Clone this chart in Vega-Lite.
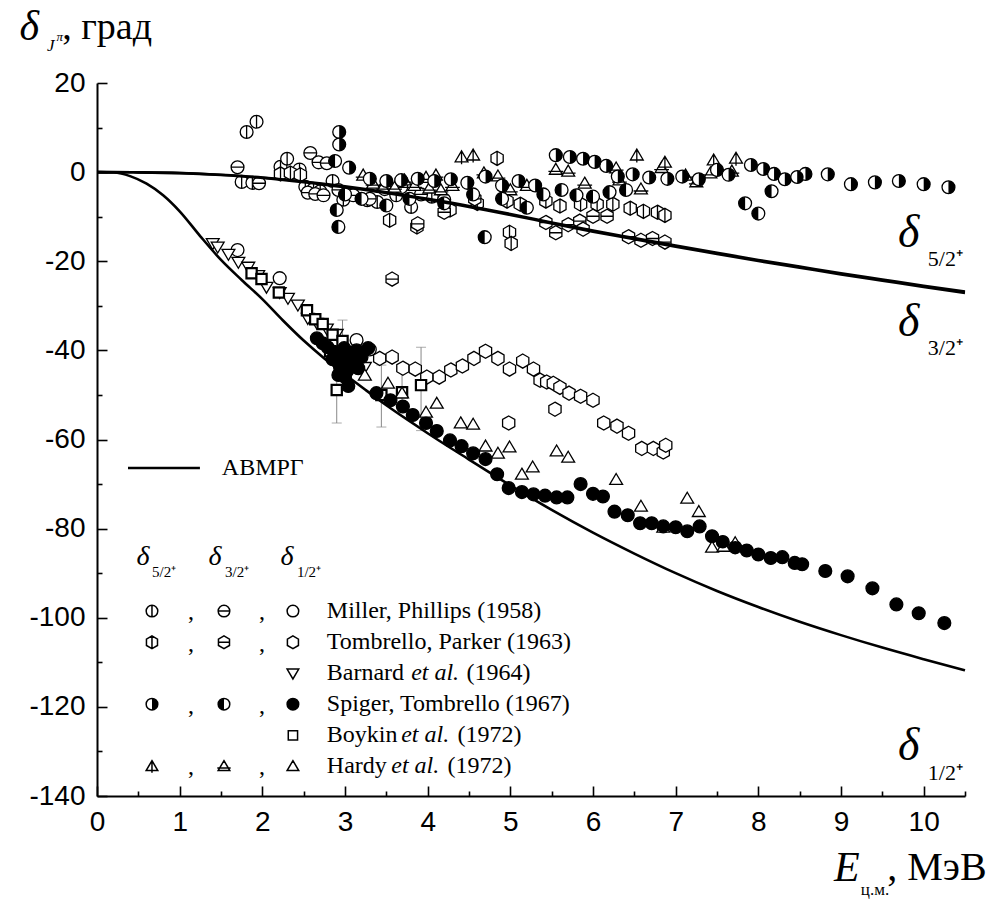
{
  "$schema": "https://vega.github.io/schema/vega-lite/v6.json",
  "width": 868,
  "height": 713,
  "autosize": {"type": "none"},
  "padding": {"left": 97, "top": 83, "right": 25, "bottom": 111},
  "background": "white",
  "config": {"view": {"stroke": null}},
  "datasets": {
    "curves": [
      {"c":"5/2","E":0,"d":0},{"c":"5/2","E":0.5,"d":-0.05},{"c":"5/2","E":1,"d":-0.2},{"c":"5/2","E":1.5,"d":-0.6},{"c":"5/2","E":2,"d":-1.2},{"c":"5/2","E":2.5,"d":-2.1},{"c":"5/2","E":3,"d":-3.2},{"c":"5/2","E":3.5,"d":-4.5},{"c":"5/2","E":4,"d":-6.0},{"c":"5/2","E":4.5,"d":-7.6},{"c":"5/2","E":5,"d":-9.4},{"c":"5/2","E":5.5,"d":-11.3},{"c":"5/2","E":6,"d":-13.1},{"c":"5/2","E":6.5,"d":-14.8},{"c":"5/2","E":7,"d":-16.5},{"c":"5/2","E":7.5,"d":-18.1},{"c":"5/2","E":8,"d":-19.7},{"c":"5/2","E":8.5,"d":-21.2},{"c":"5/2","E":9,"d":-22.7},{"c":"5/2","E":9.5,"d":-24.1},{"c":"5/2","E":10,"d":-25.5},{"c":"5/2","E":10.5,"d":-26.8},
      {"c":"3/2","E":0,"d":0},{"c":"3/2","E":0.5,"d":-0.05},{"c":"3/2","E":1,"d":-0.22},{"c":"3/2","E":1.5,"d":-0.65},{"c":"3/2","E":2,"d":-1.3},{"c":"3/2","E":2.5,"d":-2.25},{"c":"3/2","E":3,"d":-3.4},{"c":"3/2","E":3.5,"d":-4.7},{"c":"3/2","E":4,"d":-6.2},{"c":"3/2","E":4.5,"d":-7.8},{"c":"3/2","E":5,"d":-9.6},{"c":"3/2","E":5.5,"d":-11.5},{"c":"3/2","E":6,"d":-13.35},{"c":"3/2","E":6.5,"d":-15.05},{"c":"3/2","E":7,"d":-16.75},{"c":"3/2","E":7.5,"d":-18.35},{"c":"3/2","E":8,"d":-19.95},{"c":"3/2","E":8.5,"d":-21.45},{"c":"3/2","E":9,"d":-22.95},{"c":"3/2","E":9.5,"d":-24.35},{"c":"3/2","E":10,"d":-25.75},{"c":"3/2","E":10.5,"d":-27.1},
      {"c":"1/2","E":0,"d":0},{"c":"1/2","E":0.2,"d":-0.1},{"c":"1/2","E":0.4,"d":-0.9},{"c":"1/2","E":0.6,"d":-2.6},{"c":"1/2","E":0.8,"d":-5.2},{"c":"1/2","E":1.0,"d":-8.8},{"c":"1/2","E":1.25,"d":-14.4},{"c":"1/2","E":1.5,"d":-19.7},{"c":"1/2","E":1.75,"d":-24.2},{"c":"1/2","E":2.0,"d":-28.5},{"c":"1/2","E":2.25,"d":-33.3},{"c":"1/2","E":2.5,"d":-37.8},{"c":"1/2","E":2.75,"d":-41.8},{"c":"1/2","E":3.0,"d":-45.4},{"c":"1/2","E":3.25,"d":-48.9},{"c":"1/2","E":3.5,"d":-52.3},{"c":"1/2","E":3.75,"d":-55.5},{"c":"1/2","E":4.0,"d":-58.6},{"c":"1/2","E":4.5,"d":-64.5},{"c":"1/2","E":5.0,"d":-70.3},{"c":"1/2","E":5.5,"d":-75.8},{"c":"1/2","E":6.0,"d":-80.9},{"c":"1/2","E":6.5,"d":-85.6},{"c":"1/2","E":7.0,"d":-90.0},{"c":"1/2","E":7.5,"d":-94.0},{"c":"1/2","E":8.0,"d":-97.6},{"c":"1/2","E":8.5,"d":-100.9},{"c":"1/2","E":9.0,"d":-103.9},{"c":"1/2","E":9.5,"d":-106.7},{"c":"1/2","E":10.0,"d":-109.3},{"c":"1/2","E":10.5,"d":-111.8}
    ],
    "pts": [
      {"k":"MP5","E":1.75,"d":-2.2},{"k":"MP5","E":1.81,"d":9.0},{"k":"MP5","E":1.93,"d":11.3},{"k":"MP5","E":1.88,"d":-2.4},{"k":"MP5","E":2.22,"d":1.2},{"k":"MP5","E":2.30,"d":3.0},{"k":"MP5","E":2.45,"d":0.6},{"k":"MP5","E":2.52,"d":-3.3},{"k":"MP5","E":2.62,"d":-3.8},{"k":"MP5","E":2.70,"d":-4.3},{"k":"MP5","E":2.85,"d":-2.0},{"k":"MP5","E":2.98,"d":-6.2},{"k":"MP5","E":3.27,"d":-6.3},{"k":"MP5","E":3.39,"d":-6.7},{"k":"MP5","E":3.62,"d":-5.2},{"k":"MP5","E":3.80,"d":-7.8},{"k":"MP5","E":4.05,"d":-5.5},
      {"k":"MP3","E":1.70,"d":1.1},{"k":"MP3","E":1.96,"d":-2.5},{"k":"MP3","E":2.58,"d":4.3},{"k":"MP3","E":2.68,"d":2.2},{"k":"MP3","E":2.78,"d":2.0},{"k":"MP3","E":2.55,"d":-4.6},{"k":"MP3","E":2.64,"d":-4.9},{"k":"MP3","E":2.74,"d":-5.2},{"k":"MP3","E":2.92,"d":-4.0},{"k":"MP3","E":3.10,"d":-5.2},{"k":"MP3","E":3.30,"d":-6.0},{"k":"MP3","E":3.48,"d":-3.8},{"k":"MP3","E":3.68,"d":-3.4},{"k":"MP3","E":3.92,"d":-5.0},{"k":"MP3","E":4.20,"d":-6.2},
      {"k":"TP5","E":2.22,"d":-0.4},{"k":"TP5","E":2.34,"d":-0.2},{"k":"TP5","E":2.46,"d":-0.6},{"k":"TP5","E":3.54,"d":-10.8},{"k":"TP5","E":3.87,"d":-12.3},{"k":"TP5","E":4.27,"d":-8.5},{"k":"TP5","E":4.60,"d":-7.0},{"k":"TP5","E":4.84,"d":3.1},{"k":"TP5","E":4.96,"d":-6.5},{"k":"TP5","E":4.99,"d":-13.5},{"k":"TP5","E":5.01,"d":-16.0},{"k":"TP5","E":5.12,"d":-7.2},{"k":"TP5","E":5.43,"d":-6.5},{"k":"TP5","E":5.60,"d":-7.6},{"k":"TP5","E":5.85,"d":-7.2},{"k":"TP5","E":6.05,"d":-7.2},{"k":"TP5","E":6.24,"d":-7.2},{"k":"TP5","E":6.45,"d":-8.1},{"k":"TP5","E":6.61,"d":-8.8},{"k":"TP5","E":6.78,"d":-9.0},{"k":"TP5","E":6.87,"d":-9.7},
      {"k":"TP3","E":3.57,"d":-24.0},{"k":"TP3","E":3.88,"d":-11.6},{"k":"TP3","E":4.20,"d":-9.0},{"k":"TP3","E":4.57,"d":-6.0},{"k":"TP3","E":5.43,"d":-11.3},{"k":"TP3","E":5.55,"d":-13.6},{"k":"TP3","E":5.70,"d":-11.8},{"k":"TP3","E":5.84,"d":-11.0},{"k":"TP3","E":5.88,"d":-12.8},{"k":"TP3","E":6.00,"d":-9.9},{"k":"TP3","E":6.17,"d":-9.9},{"k":"TP3","E":6.43,"d":-14.5},{"k":"TP3","E":6.58,"d":-15.3},{"k":"TP3","E":6.72,"d":-14.9},{"k":"TP3","E":6.87,"d":-15.7},
      {"k":"H3","E":3.22,"d":-0.7},{"k":"H3","E":3.34,"d":-2.5},{"k":"H3","E":3.46,"d":-3.4},{"k":"H3","E":3.60,"d":-3.4},{"k":"H3","E":3.72,"d":-1.8},{"k":"H3","E":3.84,"d":-3.0},{"k":"H3","E":3.98,"d":-1.2},{"k":"H3","E":4.10,"d":-0.7},{"k":"H3","E":4.02,"d":-3.6},{"k":"H3","E":4.16,"d":-4.0},{"k":"H3","E":4.30,"d":-3.0},{"k":"H3","E":4.68,"d":-0.2},{"k":"H3","E":4.85,"d":-0.9},{"k":"H3","E":5.00,"d":-4.0},{"k":"H3","E":5.20,"d":-3.0},{"k":"H3","E":5.55,"d":0.6},{"k":"H3","E":5.70,"d":0.2},{"k":"H3","E":5.90,"d":-2.5},{"k":"H3","E":6.28,"d":0.9},{"k":"H3","E":6.32,"d":-1.8},{"k":"H3","E":6.58,"d":-3.8},{"k":"H3","E":6.83,"d":1.0},{"k":"H3","E":7.12,"d":-0.7},{"k":"H3","E":7.25,"d":-2.2},{"k":"H3","E":7.42,"d":-0.2},{"k":"H3","E":7.68,"d":0.2},
      {"k":"H5","E":4.41,"d":3.4},{"k":"H5","E":4.55,"d":3.8},{"k":"H5","E":6.53,"d":3.8},{"k":"H5","E":6.87,"d":2.2},{"k":"H5","E":7.46,"d":2.7},{"k":"H5","E":7.73,"d":3.1},
      {"k":"ST5","E":2.93,"d":9.0},{"k":"ST5","E":2.93,"d":6.2},{"k":"ST5","E":3.05,"d":1.0},{"k":"ST5","E":3.30,"d":-1.5},{"k":"ST5","E":3.50,"d":-2.0},{"k":"ST5","E":3.68,"d":-1.8},{"k":"ST5","E":3.88,"d":-1.5},{"k":"ST5","E":4.08,"d":-2.0},{"k":"ST5","E":4.28,"d":-1.6},{"k":"ST5","E":4.48,"d":-2.4},{"k":"ST5","E":4.70,"d":-1.0},{"k":"ST5","E":4.90,"d":-3.0},{"k":"ST5","E":5.10,"d":-2.0},{"k":"ST5","E":5.30,"d":-3.0},{"k":"ST5","E":5.55,"d":3.8},{"k":"ST5","E":5.72,"d":3.4},{"k":"ST5","E":5.88,"d":3.0},{"k":"ST5","E":6.02,"d":2.3},{"k":"ST5","E":6.16,"d":1.4},{"k":"ST5","E":6.30,"d":-1.0},{"k":"ST5","E":6.48,"d":-0.5},{"k":"ST5","E":6.68,"d":-1.2},{"k":"ST5","E":6.90,"d":-1.5},{"k":"ST5","E":7.08,"d":-1.0},{"k":"ST5","E":7.28,"d":-1.6},{"k":"ST5","E":7.50,"d":0.5},{"k":"ST5","E":7.64,"d":-0.6},{"k":"ST5","E":7.91,"d":1.6},{"k":"ST5","E":8.06,"d":0.7},{"k":"ST5","E":8.19,"d":-0.4},{"k":"ST5","E":8.32,"d":-1.6},{"k":"ST5","E":8.47,"d":-1.1},{"k":"ST5","E":8.57,"d":-0.4},{"k":"ST5","E":8.84,"d":-0.5},{"k":"ST5","E":9.12,"d":-2.7},{"k":"ST5","E":9.41,"d":-2.3},{"k":"ST5","E":9.70,"d":-2.0},{"k":"ST5","E":10.00,"d":-2.7},{"k":"ST5","E":10.30,"d":-3.4},
      {"k":"ST3","E":2.90,"d":-8.5},{"k":"ST3","E":2.92,"d":-12.3},{"k":"ST3","E":2.88,"d":2.5},{"k":"ST3","E":3.00,"d":-5.0},{"k":"ST3","E":3.20,"d":-6.0},{"k":"ST3","E":3.50,"d":-7.5},{"k":"ST3","E":3.78,"d":-6.0},{"k":"ST3","E":4.20,"d":-7.0},{"k":"ST3","E":4.55,"d":-5.0},{"k":"ST3","E":4.69,"d":-14.6},{"k":"ST3","E":4.90,"d":-6.0},{"k":"ST3","E":5.20,"d":-8.0},{"k":"ST3","E":5.40,"d":-5.0},{"k":"ST3","E":5.62,"d":-4.0},{"k":"ST3","E":5.80,"d":-5.2},{"k":"ST3","E":6.00,"d":-5.5},{"k":"ST3","E":6.20,"d":-4.5},{"k":"ST3","E":6.40,"d":-4.0},{"k":"ST3","E":7.84,"d":-7.0},{"k":"ST3","E":8.00,"d":-9.3},{"k":"ST3","E":8.16,"d":-4.3},
      {"k":"MP1","E":1.70,"d":-17.5},{"k":"MP1","E":2.21,"d":-23.8},{"k":"MP1","E":3.14,"d":-37.7},{"k":"MP1","E":3.30,"d":-39.8},
      {"k":"TP1","E":3.42,"d":-41.8},{"k":"TP1","E":3.57,"d":-41.5},{"k":"TP1","E":3.70,"d":-44.0},{"k":"TP1","E":3.85,"d":-44.2},{"k":"TP1","E":3.99,"d":-46.0},{"k":"TP1","E":4.14,"d":-46.0},{"k":"TP1","E":4.28,"d":-44.4},{"k":"TP1","E":4.42,"d":-43.5},{"k":"TP1","E":4.56,"d":-41.8},{"k":"TP1","E":4.70,"d":-40.2},{"k":"TP1","E":4.85,"d":-41.8},{"k":"TP1","E":4.99,"d":-44.2},{"k":"TP1","E":4.98,"d":-56.3},{"k":"TP1","E":5.15,"d":-42.4},{"k":"TP1","E":5.28,"d":-44.2},{"k":"TP1","E":5.36,"d":-46.7},{"k":"TP1","E":5.44,"d":-47.1},{"k":"TP1","E":5.52,"d":-47.4},{"k":"TP1","E":5.60,"d":-48.3},{"k":"TP1","E":5.71,"d":-49.6},{"k":"TP1","E":5.85,"d":-50.3},{"k":"TP1","E":6.00,"d":-51.2},{"k":"TP1","E":5.54,"d":-53.2},{"k":"TP1","E":6.13,"d":-56.3},{"k":"TP1","E":6.29,"d":-57.0},{"k":"TP1","E":6.43,"d":-58.6},{"k":"TP1","E":6.59,"d":-62.0},{"k":"TP1","E":6.73,"d":-62.0},{"k":"TP1","E":6.85,"d":-62.8},{"k":"TP1","E":6.88,"d":-61.3},
      {"k":"B1","E":1.40,"d":-16.0},{"k":"B1","E":1.46,"d":-16.8},{"k":"B1","E":1.59,"d":-18.4},{"k":"B1","E":1.71,"d":-20.2},{"k":"B1","E":1.83,"d":-21.3},{"k":"B1","E":1.95,"d":-23.2},{"k":"B1","E":2.05,"d":-25.8},{"k":"B1","E":2.21,"d":-27.0},{"k":"B1","E":2.31,"d":-28.3},{"k":"B1","E":2.43,"d":-29.8},{"k":"B1","E":2.55,"d":-32.8},{"k":"B1","E":2.66,"d":-33.9},{"k":"B1","E":2.78,"d":-35.2},{"k":"B1","E":2.90,"d":-36.4},{"k":"B1","E":3.24,"d":-43.8},
      {"k":"BK1","E":1.87,"d":-22.7},{"k":"BK1","E":1.99,"d":-24.0},{"k":"BK1","E":2.20,"d":-27.0},{"k":"BK1","E":2.54,"d":-31.0},{"k":"BK1","E":2.64,"d":-33.0},{"k":"BK1","E":2.73,"d":-34.1},{"k":"BK1","E":2.85,"d":-36.5},{"k":"BK1","E":2.97,"d":-37.9},{"k":"BK1","E":2.82,"d":-40.2},{"k":"BK1","E":3.10,"d":-41.0},{"k":"BK1","E":2.90,"d":-48.9},{"k":"BK1","E":3.44,"d":-50.0},{"k":"BK1","E":3.69,"d":-49.4},{"k":"BK1","E":3.92,"d":-47.8},
      {"k":"ST1","E":2.66,"d":-37.3},{"k":"ST1","E":2.73,"d":-38.4},{"k":"ST1","E":2.79,"d":-39.3},{"k":"ST1","E":2.85,"d":-42.0},{"k":"ST1","E":2.87,"d":-40.4},{"k":"ST1","E":2.92,"d":-45.5},{"k":"ST1","E":2.94,"d":-43.8},{"k":"ST1","E":2.95,"d":-41.9},{"k":"ST1","E":2.99,"d":-39.5},{"k":"ST1","E":3.00,"d":-46.0},{"k":"ST1","E":3.03,"d":-44.5},{"k":"ST1","E":3.06,"d":-40.6},{"k":"ST1","E":3.08,"d":-42.5},{"k":"ST1","E":3.14,"d":-40.0},{"k":"ST1","E":3.16,"d":-44.0},{"k":"ST1","E":3.20,"d":-41.5},{"k":"ST1","E":3.28,"d":-39.5},{"k":"ST1","E":3.04,"d":-48.0},{"k":"ST1","E":3.38,"d":-49.6},{"k":"ST1","E":3.55,"d":-51.2},{"k":"ST1","E":3.70,"d":-52.6},{"k":"ST1","E":3.82,"d":-54.5},{"k":"ST1","E":3.98,"d":-56.3},{"k":"ST1","E":4.11,"d":-58.1},{"k":"ST1","E":4.27,"d":-60.2},{"k":"ST1","E":4.41,"d":-61.5},{"k":"ST1","E":4.55,"d":-63.1},{"k":"ST1","E":4.70,"d":-64.4},{"k":"ST1","E":4.84,"d":-67.8},{"k":"ST1","E":4.98,"d":-70.9},{"k":"ST1","E":5.14,"d":-71.8},{"k":"ST1","E":5.28,"d":-72.3},{"k":"ST1","E":5.42,"d":-72.6},{"k":"ST1","E":5.56,"d":-73.0},{"k":"ST1","E":5.69,"d":-73.0},{"k":"ST1","E":5.85,"d":-70.0},{"k":"ST1","E":6.00,"d":-72.2},{"k":"ST1","E":6.12,"d":-72.8},{"k":"ST1","E":6.26,"d":-76.2},{"k":"ST1","E":6.42,"d":-77.0},{"k":"ST1","E":6.57,"d":-78.8},{"k":"ST1","E":6.71,"d":-78.8},{"k":"ST1","E":6.85,"d":-79.5},{"k":"ST1","E":7.00,"d":-79.7},{"k":"ST1","E":7.14,"d":-80.6},{"k":"ST1","E":7.29,"d":-79.5},{"k":"ST1","E":7.44,"d":-81.7},{"k":"ST1","E":7.57,"d":-83.0},{"k":"ST1","E":7.72,"d":-84.2},{"k":"ST1","E":7.86,"d":-84.9},{"k":"ST1","E":8.00,"d":-85.8},{"k":"ST1","E":8.15,"d":-86.6},{"k":"ST1","E":8.29,"d":-86.4},{"k":"ST1","E":8.44,"d":-87.7},{"k":"ST1","E":8.53,"d":-88.0},{"k":"ST1","E":8.81,"d":-89.5},{"k":"ST1","E":9.08,"d":-90.7},{"k":"ST1","E":9.38,"d":-93.4},{"k":"ST1","E":9.67,"d":-97.0},{"k":"ST1","E":9.94,"d":-99.0},{"k":"ST1","E":10.25,"d":-101.2},
      {"k":"H1","E":3.24,"d":-45.6},{"k":"H1","E":3.52,"d":-47.4},{"k":"H1","E":3.69,"d":-49.6},{"k":"H1","E":3.98,"d":-53.9},{"k":"H1","E":4.11,"d":-51.9},{"k":"H1","E":4.40,"d":-56.3},{"k":"H1","E":4.55,"d":-56.6},{"k":"H1","E":4.70,"d":-61.5},{"k":"H1","E":4.85,"d":-63.1},{"k":"H1","E":4.99,"d":-61.7},{"k":"H1","E":5.14,"d":-67.8},{"k":"H1","E":5.27,"d":-66.2},{"k":"H1","E":5.56,"d":-62.6},{"k":"H1","E":5.70,"d":-64.0},{"k":"H1","E":6.28,"d":-69.0},{"k":"H1","E":6.58,"d":-75.0},{"k":"H1","E":6.85,"d":-79.7},{"k":"H1","E":7.14,"d":-73.2},{"k":"H1","E":7.28,"d":-76.2},{"k":"H1","E":7.44,"d":-84.2},{"k":"H1","E":7.58,"d":-84.0},{"k":"H1","E":7.72,"d":-83.2}
    ],
    "err": [
      {"E":2.90,"lo":-56.3,"hi":-41.0},{"E":2.97,"lo":-43.0,"hi":-33.2},{"E":3.44,"lo":-57.2,"hi":-43.3},{"E":3.69,"lo":-54.0,"hi":-44.5},{"E":3.92,"lo":-58.0,"hi":-39.3}
    ],
    "lsym": [
      {"k":"MP5","E":0.665,"d":-98.5},{"k":"MP3","E":1.536,"d":-98.5},{"k":"MP1","E":2.37,"d":-98.5},
      {"k":"TP5","E":0.665,"d":-105.5},{"k":"TP3","E":1.536,"d":-105.5},{"k":"TP1","E":2.37,"d":-105.5},
      {"k":"B1","E":2.37,"d":-112.5},
      {"k":"ST5","E":0.665,"d":-119.4},{"k":"ST3","E":1.536,"d":-119.4},{"k":"ST1","E":2.37,"d":-119.4},
      {"k":"BK1","E":2.37,"d":-126.4},
      {"k":"H5","E":0.665,"d":-133.3},{"k":"H3","E":1.536,"d":-133.3},{"k":"H1","E":2.37,"d":-133.3}
    ],
    "lline": [{"E":0.375,"E2":1.245,"d":-66.4}],
    "ltext": [
      {"t":"АВМРГ","E":1.51,"d":-66.4},
      {"t":"Miller, Phillips (1958)","E":2.78,"d":-98.5},
      {"t":"Tombrello, Parker (1963)","E":2.78,"d":-105.5},
      {"t":"Barnard","E":2.78,"d":-112.5},{"t":"(1964)","E":4.47,"d":-112.5},
      {"t":"Spiger, Tombrello (1967)","E":2.78,"d":-119.4},
      {"t":"Boykin","E":2.78,"d":-126.4},{"t":"(1972)","E":4.36,"d":-126.4},
      {"t":"Hardy","E":2.78,"d":-133.3},{"t":"(1972)","E":4.24,"d":-133.3},
      {"t":",","E":1.1,"d":-98.8},{"t":",","E":1.96,"d":-98.8},
      {"t":",","E":1.1,"d":-105.8},{"t":",","E":1.96,"d":-105.8},
      {"t":",","E":1.1,"d":-119.7},{"t":",","E":1.96,"d":-119.7},
      {"t":",","E":1.1,"d":-133.6},{"t":",","E":1.96,"d":-133.6}
    ],
    "litalic": [
      {"t":"et al.","E":3.8,"d":-112.5},{"t":"et al.","E":3.68,"d":-126.4},{"t":"et al.","E":3.56,"d":-133.3}
    ],
    "hdelta": [
      {"t":"δ","E":0.556,"d":-86.4},{"t":"δ","E":1.427,"d":-86.4},{"t":"δ","E":2.297,"d":-86.4}
    ],
    "hsub": [
      {"t":"5/2⁺","E":0.665,"d":-89.8},{"t":"3/2⁺","E":1.548,"d":-89.8},{"t":"1/2⁺","E":2.418,"d":-89.8}
    ],
    "cdelta": [
      {"t":"δ","E":9.82,"d":-13.6},{"t":"δ","E":9.82,"d":-33.6},{"t":"δ","E":9.82,"d":-128.8}
    ],
    "csub": [
      {"t":"5/2⁺","E":10.05,"d":-19.6},{"t":"3/2⁺","E":10.05,"d":-39.4},{"t":"1/2⁺","E":10.05,"d":-134.8}
    ],
    "tbig": [
      {"t":"δ","E":-0.82,"d":32.5},{"t":"E","E":9.07,"d":-156.2}
    ],
    "tsubit": [
      {"t":"J","E":-0.605,"d":28.3}
    ],
    "tsup": [
      {"t":"π","E":-0.49,"d":30.4}
    ],
    "tsub": [
      {"t":"ц.м.","E":9.24,"d":-161.0}
    ],
    "tmain": [
      {"t":", град","E":-0.42,"d":32.3}
    ],
    "tmainx": [
      {"t":", МэВ","E":9.56,"d":-156.2}
    ]
  },
  "layer": [
    {
      "data": {"name": "err"},
      "mark": {"type": "rule", "color": "#888888", "strokeWidth": 1},
      "encoding": {
        "x": {"field": "E", "type": "quantitative", "scale": {"domain": [0, 10.5], "nice": false, "zero": false},
          "axis": {
            "values": [0,0.5,1,1.5,2,2.5,3,3.5,4,4.5,5,5.5,6,6.5,7,7.5,8,8.5,9,9.5,10,10.5],
            "labelExpr": "datum.value % 1 === 0 ? '' + datum.value : ''",
            "tickSize": {"condition": {"test": "datum.value % 1 === 0", "value": -10}, "value": -5},
            "labelPadding": 22, "domainColor": "black", "domainWidth": 2, "tickColor": "black", "tickWidth": 1.6,
            "labelFont": "Liberation Sans", "labelFontSize": 28, "labelColor": "black", "grid": false, "title": null,
            "labelFlush": false, "labelOverlap": false
          }},
        "y": {"field": "lo", "type": "quantitative", "scale": {"domain": [-140, 20], "nice": false, "zero": false},
          "axis": {
            "values": [-140,-130,-120,-110,-100,-90,-80,-70,-60,-50,-40,-30,-20,-10,0,10,20],
            "labelExpr": "datum.value % 20 === 0 ? '' + datum.value : ''",
            "tickSize": {"condition": {"test": "datum.value % 20 === 0", "value": -10}, "value": -5},
            "labelPadding": 22, "domainColor": "black", "domainWidth": 2, "tickColor": "black", "tickWidth": 1.6,
            "labelFont": "Liberation Sans", "labelFontSize": 28, "labelColor": "black", "grid": false, "title": null,
            "labelFlush": false, "labelOverlap": false
          }},
        "y2": {"field": "hi"}
      }
    },
    {
      "data": {"name": "err"},
      "mark": {"type": "tick", "color": "#888888", "thickness": 1, "size": 10, "orient": "horizontal"},
      "encoding": {
        "x": {"field": "E", "type": "quantitative"},
        "y": {"field": "lo", "type": "quantitative"}
      }
    },
    {
      "data": {"name": "err"},
      "mark": {"type": "tick", "color": "#888888", "thickness": 1, "size": 10, "orient": "horizontal"},
      "encoding": {
        "x": {"field": "E", "type": "quantitative"},
        "y": {"field": "hi", "type": "quantitative"}
      }
    },
    {
      "data": {"name": "pts"},
      "mark": {"type": "point", "filled": true, "fill": "white", "stroke": "black", "opacity": 1},
      "encoding": {
        "x": {"field": "E", "type": "quantitative"},
        "y": {"field": "d", "type": "quantitative"},
        "shape": {"field": "k", "type": "nominal", "legend": null,
          "scale": {
            "domain": ["MP1","MP5","MP3","TP1","TP5","TP3","B1","ST1","ST5","ST3","BK1","H1","H5","H3"],
            "range": [
              "M-1,0A1,1,0,1,1,1,0A1,1,0,1,1,-1,0Z",
              "M-1,0A1,1,0,1,1,1,0A1,1,0,1,1,-1,0ZM0,-1L0,1",
              "M-1,0A1,1,0,1,1,1,0A1,1,0,1,1,-1,0ZM-1,0L1,0",
              "M0,-1.1L0.95,-0.55L0.95,0.55L0,1.1L-0.95,0.55L-0.95,-0.55Z",
              "M0,-1.1L0.95,-0.55L0.95,0.55L0,1.1L-0.95,0.55L-0.95,-0.55ZM0,-1.1L0,1.1",
              "M0,-1.1L0.95,-0.55L0.95,0.55L0,1.1L-0.95,0.55L-0.95,-0.55ZM-0.95,0L0.95,0",
              "M-1,-0.75L1,-0.75L0,0.95Z",
              "M-1,0A1,1,0,1,1,1,0A1,1,0,1,1,-1,0Z",
              "M-1,0A1,1,0,1,1,1,0A1,1,0,1,1,-1,0Z",
              "M-1,0A1,1,0,1,1,1,0A1,1,0,1,1,-1,0Z",
              "M-0.8,-0.8L0.8,-0.8L0.8,0.8L-0.8,0.8Z",
              "M0,-0.95L1,0.75L-1,0.75Z",
              "M0,-0.95L1,0.75L-1,0.75ZM0,-0.95L0,1.15",
              "M0,-0.95L1,0.75L-1,0.75ZM-1.15,0.3L1.15,0.3"
            ]
          }},
        "size": {"value": 165},
        "strokeWidth": {"condition": {"test": "datum.k === 'BK1'", "value": 2.2}, "value": 1.3}
      }
    },
    {
      "data": {"name": "pts"},
      "transform": [{"filter": "datum.k === 'ST1' || datum.k === 'ST5' || datum.k === 'ST3'"}],
      "mark": {"type": "point", "filled": true, "fill": "black", "strokeWidth": 0, "opacity": 1},
      "encoding": {
        "x": {"field": "E", "type": "quantitative"},
        "y": {"field": "d", "type": "quantitative"},
        "shape": {"condition": [
            {"test": "datum.k === 'ST5'", "value": "M0,-1A1,1,0,0,1,0,1Z"},
            {"test": "datum.k === 'ST3'", "value": "M0,-1A1,1,0,0,0,0,1Z"}
          ], "value": "M-1,0A1,1,0,1,1,1,0A1,1,0,1,1,-1,0Z"},
        "size": {"value": 165}
      }
    },
    {
      "data": {"name": "curves"},
      "mark": {"type": "line", "color": "black", "strokeWidth": 2.6, "interpolate": "monotone"},
      "encoding": {
        "x": {"field": "E", "type": "quantitative"},
        "y": {"field": "d", "type": "quantitative"},
        "detail": {"field": "c"}
      }
    },
    {
      "data": {"name": "lline"},
      "mark": {"type": "rule", "color": "black", "strokeWidth": 2.6},
      "encoding": {
        "x": {"field": "E", "type": "quantitative"},
        "x2": {"field": "E2"},
        "y": {"field": "d", "type": "quantitative"}
      }
    },
    {
      "data": {"name": "lsym"},
      "mark": {"type": "point", "filled": true, "fill": "white", "stroke": "black", "strokeWidth": 1.5, "opacity": 1},
      "encoding": {
        "x": {"field": "E", "type": "quantitative"},
        "y": {"field": "d", "type": "quantitative"},
        "shape": {"field": "k", "type": "nominal", "legend": null},
        "size": {"value": 135}
      }
    },
    {
      "data": {"name": "lsym"},
      "transform": [{"filter": "datum.k === 'ST1' || datum.k === 'ST5' || datum.k === 'ST3'"}],
      "mark": {"type": "point", "filled": true, "fill": "black", "strokeWidth": 0, "opacity": 1},
      "encoding": {
        "x": {"field": "E", "type": "quantitative"},
        "y": {"field": "d", "type": "quantitative"},
        "shape": {"condition": [
            {"test": "datum.k === 'ST5'", "value": "M0,-1A1,1,0,0,1,0,1Z"},
            {"test": "datum.k === 'ST3'", "value": "M0,-1A1,1,0,0,0,0,1Z"}
          ], "value": "M-1,0A1,1,0,1,1,1,0A1,1,0,1,1,-1,0Z"},
        "size": {"value": 135}
      }
    },
    {
      "data": {"name": "ltext"},
      "mark": {"type": "text", "font": "Liberation Serif", "fontSize": 24, "align": "left", "baseline": "middle", "color": "black"},
      "encoding": {"x": {"field": "E", "type": "quantitative"}, "y": {"field": "d", "type": "quantitative"}, "text": {"field": "t"}}
    },
    {
      "data": {"name": "litalic"},
      "mark": {"type": "text", "font": "Liberation Serif", "fontSize": 24, "fontStyle": "italic", "align": "left", "baseline": "middle", "color": "black"},
      "encoding": {"x": {"field": "E", "type": "quantitative"}, "y": {"field": "d", "type": "quantitative"}, "text": {"field": "t"}}
    },
    {
      "data": {"name": "hdelta"},
      "mark": {"type": "text", "font": "Liberation Serif", "fontSize": 28, "fontStyle": "italic", "align": "center", "baseline": "middle", "color": "black"},
      "encoding": {"x": {"field": "E", "type": "quantitative"}, "y": {"field": "d", "type": "quantitative"}, "text": {"field": "t"}}
    },
    {
      "data": {"name": "hsub"},
      "mark": {"type": "text", "font": "Liberation Serif", "fontSize": 15, "align": "left", "baseline": "middle", "color": "black"},
      "encoding": {"x": {"field": "E", "type": "quantitative"}, "y": {"field": "d", "type": "quantitative"}, "text": {"field": "t"}}
    },
    {
      "data": {"name": "cdelta"},
      "mark": {"type": "text", "font": "Liberation Serif", "fontSize": 46, "fontStyle": "italic", "align": "center", "baseline": "middle", "color": "black"},
      "encoding": {"x": {"field": "E", "type": "quantitative"}, "y": {"field": "d", "type": "quantitative"}, "text": {"field": "t"}}
    },
    {
      "data": {"name": "csub"},
      "mark": {"type": "text", "font": "Liberation Serif", "fontSize": 22, "align": "left", "baseline": "middle", "color": "black"},
      "encoding": {"x": {"field": "E", "type": "quantitative"}, "y": {"field": "d", "type": "quantitative"}, "text": {"field": "t"}}
    },
    {
      "data": {"name": "tbig"},
      "mark": {"type": "text", "font": "Liberation Serif", "fontSize": 42, "fontStyle": "italic", "align": "center", "baseline": "middle", "color": "black"},
      "encoding": {"x": {"field": "E", "type": "quantitative"}, "y": {"field": "d", "type": "quantitative"}, "text": {"field": "t"}}
    },
    {
      "data": {"name": "tsubit"},
      "mark": {"type": "text", "font": "Liberation Serif", "fontSize": 17, "fontStyle": "italic", "align": "left", "baseline": "middle", "color": "black"},
      "encoding": {"x": {"field": "E", "type": "quantitative"}, "y": {"field": "d", "type": "quantitative"}, "text": {"field": "t"}}
    },
    {
      "data": {"name": "tsup"},
      "mark": {"type": "text", "font": "Liberation Serif", "fontSize": 13, "fontStyle": "italic", "align": "left", "baseline": "middle", "color": "black"},
      "encoding": {"x": {"field": "E", "type": "quantitative"}, "y": {"field": "d", "type": "quantitative"}, "text": {"field": "t"}}
    },
    {
      "data": {"name": "tsub"},
      "mark": {"type": "text", "font": "Liberation Serif", "fontSize": 17, "align": "left", "baseline": "middle", "color": "black"},
      "encoding": {"x": {"field": "E", "type": "quantitative"}, "y": {"field": "d", "type": "quantitative"}, "text": {"field": "t"}}
    },
    {
      "data": {"name": "tmain"},
      "mark": {"type": "text", "font": "Liberation Serif", "fontSize": 38, "align": "left", "baseline": "middle", "color": "black"},
      "encoding": {"x": {"field": "E", "type": "quantitative"}, "y": {"field": "d", "type": "quantitative"}, "text": {"field": "t"}}
    },
    {
      "data": {"name": "tmainx"},
      "mark": {"type": "text", "font": "Liberation Serif", "fontSize": 40, "align": "left", "baseline": "middle", "color": "black"},
      "encoding": {"x": {"field": "E", "type": "quantitative"}, "y": {"field": "d", "type": "quantitative"}, "text": {"field": "t"}}
    }
  ]
}
